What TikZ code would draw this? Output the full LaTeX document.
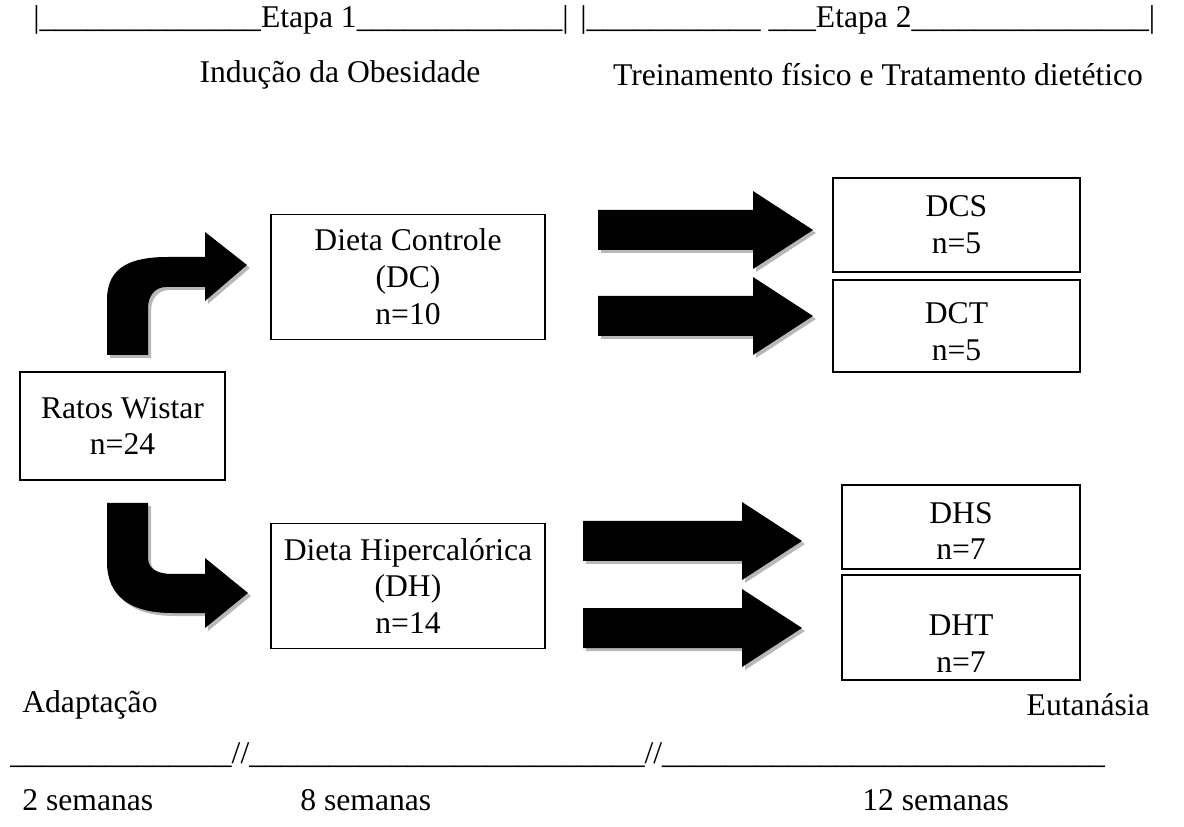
\documentclass[tikz,border=0pt]{standalone}
\usepackage{fontspec}
\setmainfont{Liberation Serif}
\usetikzlibrary{calc}

% underscores typed as a rule
\newcommand{\traco}[1]{\foreach \i in {1,...,#1}{\_}}
% block arrow with grey shadow: start x, tip x, y
\newcommand{\blocoseta}[3]{%
  \foreach \d/\c in {3/black!28, 0/black}{
    \fill[\c, shift={(\d,\d)}] (#1,#3-20) -- (#2-60,#3-20) -- (#2-60,#3-39) -- (#2,#3)
      -- (#2-60,#3+39) -- (#2-60,#3+20) -- (#1,#3+20) -- cycle;
  }}

\begin{document}
\begin{tikzpicture}[x=0.02cm, y=-0.02cm,
  grupo/.style={draw, line width=1pt, align=center, inner sep=0pt,
                font=\fontsize{18}{21}\selectfont},
  texto/.style={align=center, inner sep=0pt, font=\fontsize{18}{21}\selectfont},
  rotulo/.style={inner sep=0pt, font=\fontsize{18}{21}\selectfont}
]
  \useasboundingbox (0,0) rectangle (1184,827);

  % cabecalho
  \node[rotulo, anchor=west] (etapa1) at (33,20) {|\traco{14}Etapa 1\traco{13}|};
  \node[rotulo, anchor=west] (etapa2) at (580,20) {|\traco{11} \traco{3}Etapa 2\traco{15}|};
  \node[rotulo] (inducao) at (340,75) {Indução da Obesidade};
  \node[rotulo] (treino) at (878,75) {Treinamento físico e Tratamento dietético};

  % grupos
  \node[grupo, minimum width=4.1cm, minimum height=2.16cm] (ratos) at (122.5,426) {Ratos Wistar\\n=24};
  \node[grupo, minimum width=5.48cm, minimum height=2.5cm] (dc) at (408,277) {Dieta Controle\\(DC)\\n=10};
  \node[grupo, minimum width=5.48cm, minimum height=2.5cm] (dh) at (408,586) {Dieta Hipercalórica\\(DH)\\n=14};
  \node[grupo, minimum width=4.94cm, minimum height=1.88cm] (dcs) at (956.5,225) {DCS\\n=5};
  \node[grupo, minimum width=4.94cm, minimum height=1.84cm] (dct) at (956.5,326) {};
  \node[texto, yshift=-0.12cm] (dct-txt) at (dct.center) {DCT\\n=5};
  \node[grupo, minimum width=4.76cm, minimum height=1.68cm] (dhs) at (961,527) {};
  \node[texto, yshift=-0.08cm] (dhs-txt) at (dhs.center) {DHS\\n=7};
  \node[grupo, minimum width=4.76cm, minimum height=2.1cm] (dht) at (961,627.5) {};
  \node[texto, yshift=-0.32cm] (dht-txt) at (dht.center) {DHT\\n=7};

  % setas curvas
  \foreach \d/\c in {3/black!28, 0/black}{
    \fill[\c, shift={(\d,\d)}] (107,355) -- (107,300) .. controls (107,266) and (132,257) .. (168,257)
      -- (205,257) -- (205,232) -- (247,265) -- (205,301) -- (205,287) -- (166,287)
      .. controls (155,287) and (148,296) .. (148,308) -- (148,355) -- cycle;
    \fill[\c, shift={(\d,\d)}] (107,503) -- (148,503) -- (148,558) .. controls (148,569) and (158,574) .. (172,574)
      -- (205,574) -- (205,558) -- (248,593) -- (205,628) -- (205,613) -- (172,613)
      .. controls (130,613) and (107,596) .. (107,562) -- cycle;
  }

  % setas retas
  \blocoseta{598}{813}{230}
  \blocoseta{598}{813}{316}
  \blocoseta{583}{802}{541}
  \blocoseta{583}{802}{628}

  % linha do tempo
  \node[rotulo, anchor=west] (adapt) at (22,705) {Adaptação};
  \node[rotulo, anchor=east] (eutan) at (1150,705) {Eutanásia};
  \node[rotulo, anchor=west] (linha) at (10,755) {\traco{14}//\traco{25}//\traco{28}};
  \node[rotulo, anchor=west] (sem2) at (22,800) {2 semanas};
  \node[rotulo, anchor=west] (sem8) at (300,800) {8 semanas};
  \node[rotulo, anchor=west] (sem12) at (862,800) {12 semanas};
\end{tikzpicture}
\end{document}
